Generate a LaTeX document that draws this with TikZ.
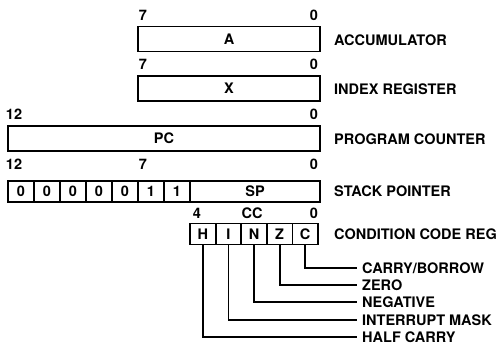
\documentclass[tikz,border=0pt]{standalone}
\usepackage{fontspec}
\setmainfont{TeX Gyre Heros}
\begin{document}
\begin{tikzpicture}[x=1pt,y=-1pt,
	font=\fontsize{14.5}{16}\selectfont\bfseries,
	txt/.style={inner sep=0pt,text height=10.4pt,text depth=0pt},
	reg/.style={txt,draw,line width=1.8pt,minimum height=25pt},
	bitcell/.style={reg,minimum width=26pt,minimum height=21pt},
	ccbox/.style={reg,minimum width=25.6pt,minimum height=21pt},
	regname/.style={txt,anchor=west},
	flagname/.style={txt,anchor=west,inner xsep=5pt},
	flagline/.style={line width=1.8pt}]
	\useasboundingbox (0,0) rectangle (503,344);
	% registers
	\node[reg,minimum width=182pt] (acc) at (229,39) {A};
	\node[reg,minimum width=182pt] (idx) at (229,88.5) {X};
	\node[reg,minimum width=312pt] (pc) at (164,138.5) {PC};
	\foreach \b [count=\i] in {0,0,0,0,0,1,1}
		\node[bitcell] (sp\i) at ({-5+26*\i},191.5) {\b};
	\node[bitcell,minimum width=130pt] (sp) at (255,191.5) {SP};
	\foreach \f [count=\i] in {H,I,N,Z,C}
		\node[ccbox] (cc\i) at ({177.2+25.6*\i},234) {\f};
	% bit numbers
	\node[txt] (acchi) at (143,15) {7};
	\node[txt] (acclo) at (314,15) {0};
	\node[txt] (idxhi) at (143,64) {7};
	\node[txt] (idxlo) at (314,64) {0};
	\node[txt] (pchi) at (14,114) {12};
	\node[txt] (pclo) at (314,114) {0};
	\node[txt] (sphi) at (14,164) {12};
	\node[txt] (spmid) at (143,164) {7};
	\node[txt] (splo) at (314,164) {0};
	\node[txt] (cchi) at (197,213) {4};
	\node[txt] (ccmid) at (252,213) {CC};
	\node[txt] (cclo) at (314,213) {0};
	% register names
	\node[regname] (accname) at (334,40) {ACCUMULATOR};
	\node[regname] (idxname) at (334,89) {INDEX REGISTER};
	\node[regname] (pcname) at (334,139) {PROGRAM COUNTER};
	\node[regname] (spname) at (334,191) {STACK POINTER};
	\node[regname] (ccname) at (334,234) {CONDITION CODE REG};
	% condition code flags
	\foreach \i/\y/\t in {5/268/{CARRY/BORROW},4/285/ZERO,3/302/NEGATIVE,2/320/{INTERRUPT MASK},1/337/{HALF CARRY}} {
		\node[flagname] (flag\i) at (357,\y) {\t};
		\draw[flagline] (cc\i.south) |- (flag\i.west);
	}
\end{tikzpicture}
\end{document}
